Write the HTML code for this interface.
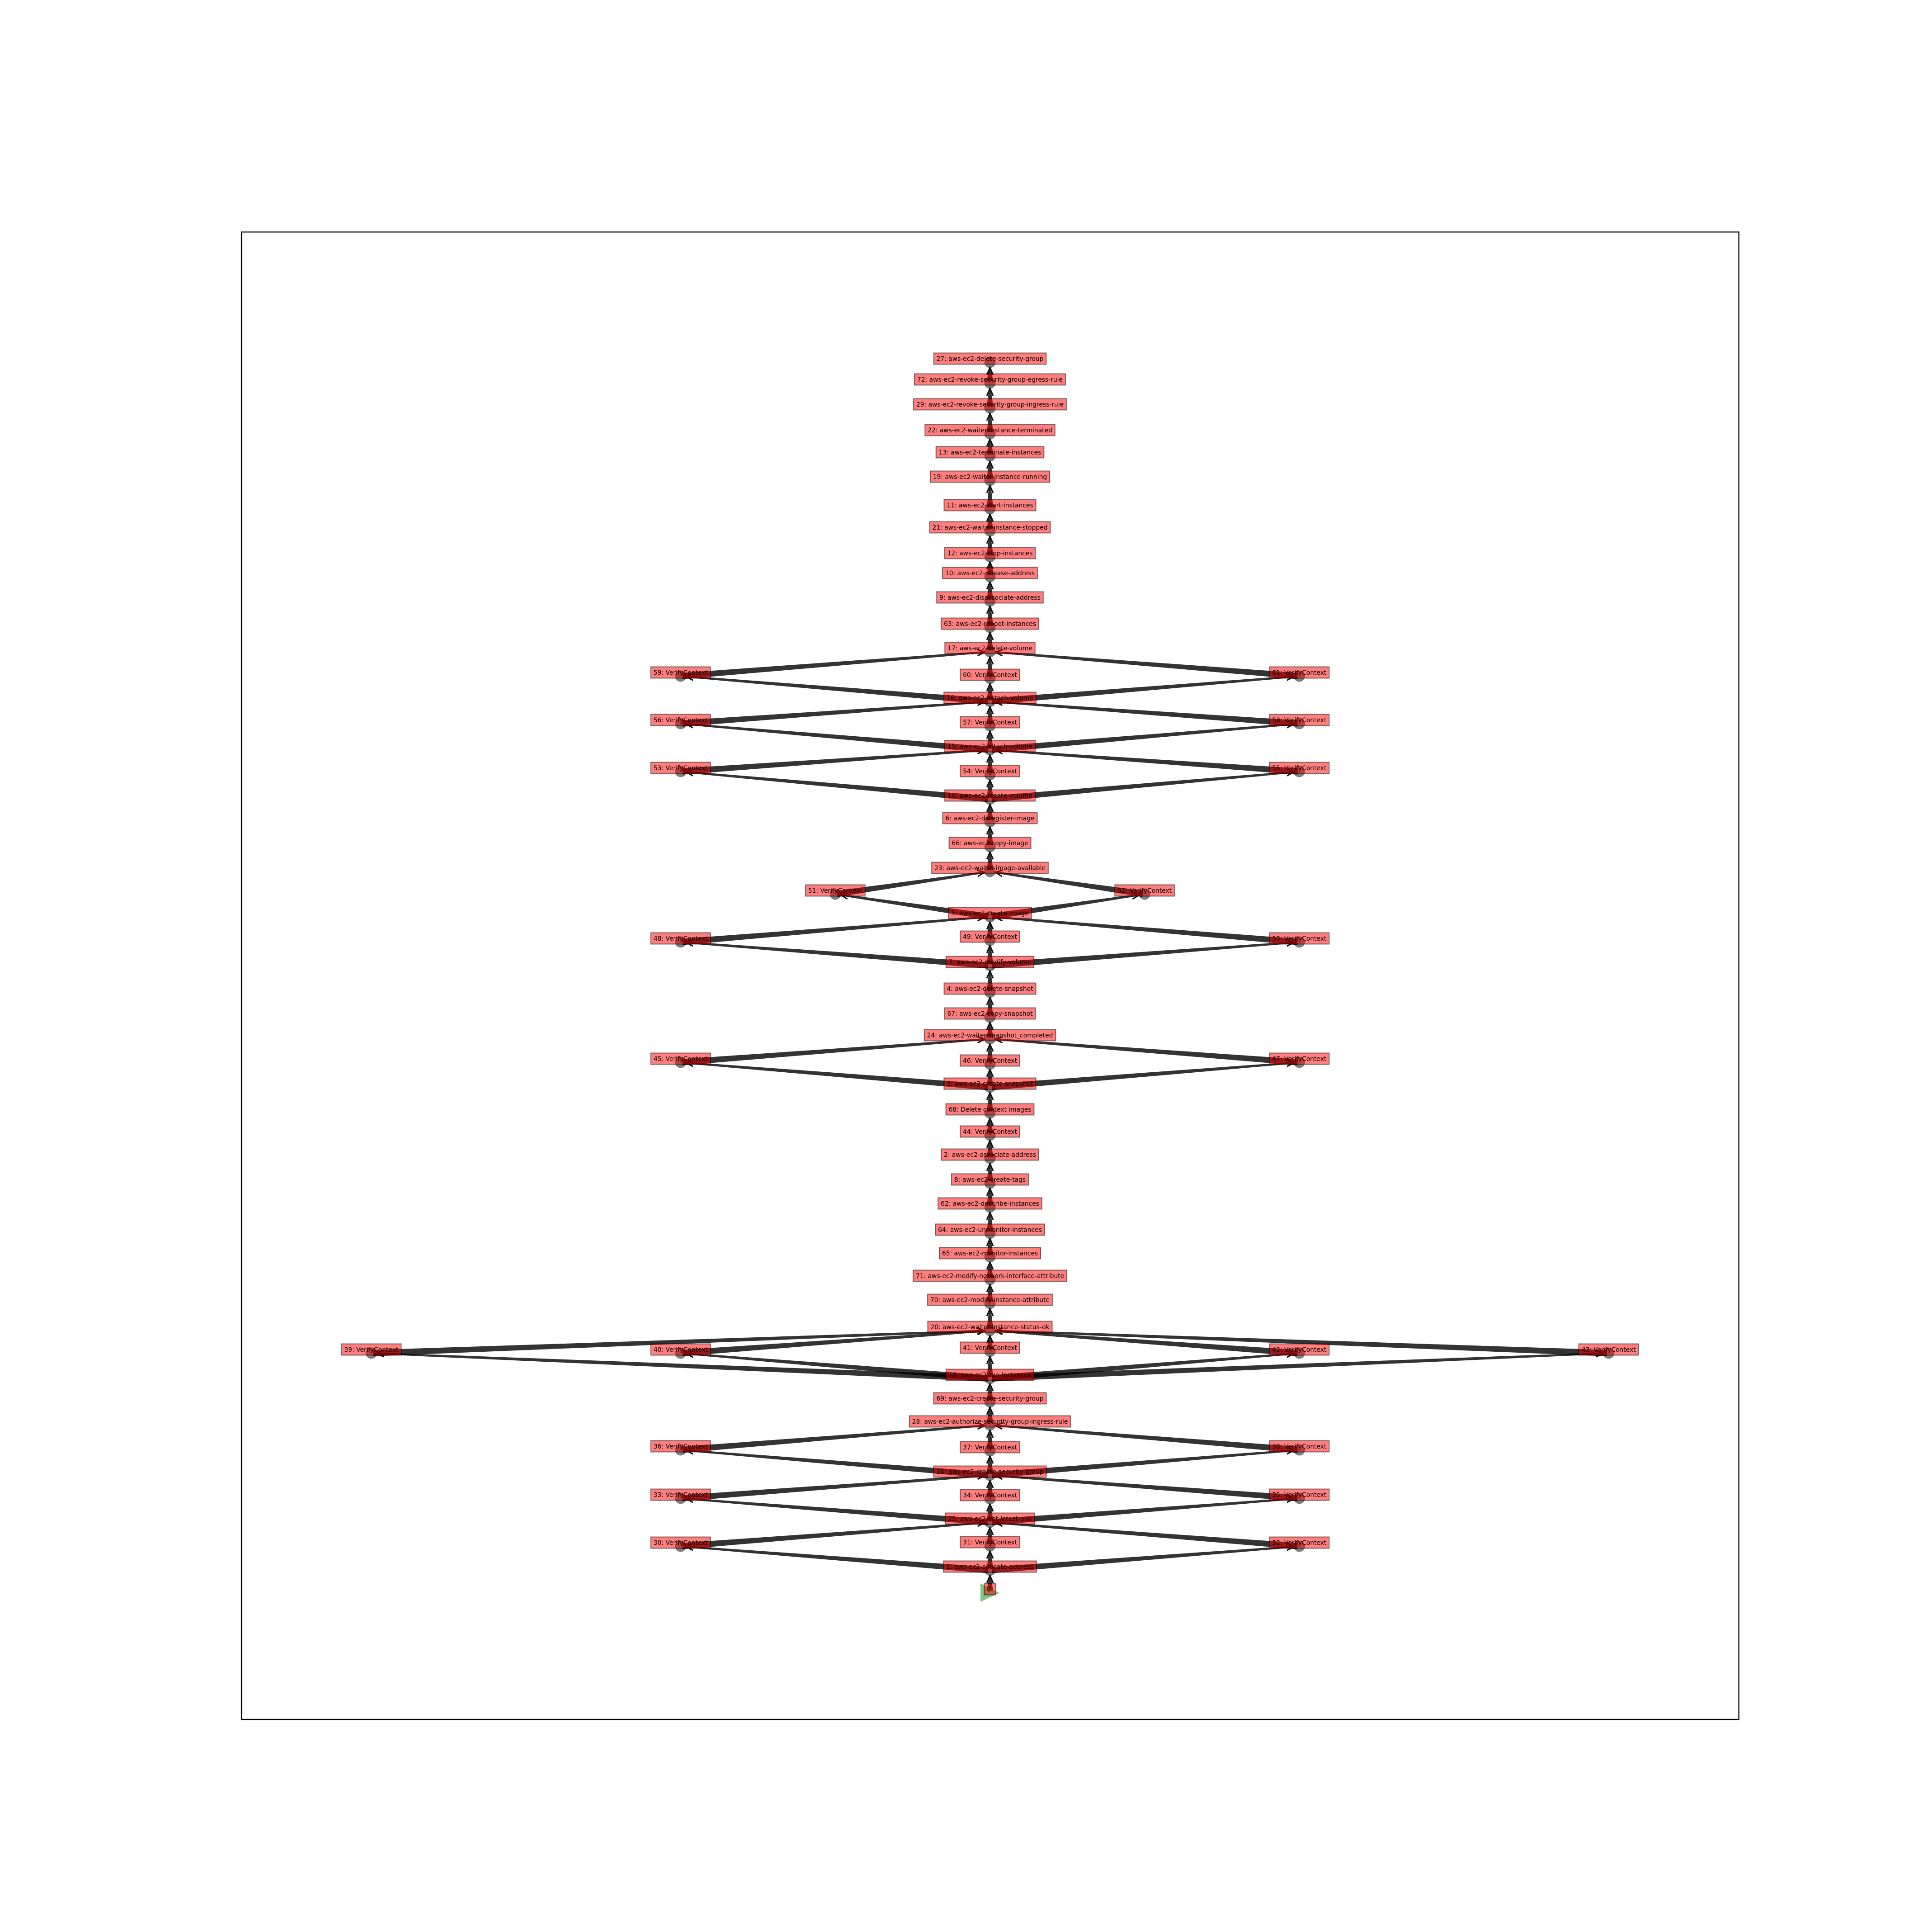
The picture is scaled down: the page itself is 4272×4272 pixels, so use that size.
<!DOCTYPE html>
<html><head><meta charset="utf-8">
<style>
html,body{margin:0;padding:0;background:#fff;}
svg{display:block;}
text{font-family:"DejaVu Sans","Liberation Sans",sans-serif;font-size:13.8px;}
</style></head>
<body>
<svg id="chart" width="4272" height="4272" viewBox="0 0 4272 4272" xmlns="http://www.w3.org/2000/svg">
<rect x="0" y="0" width="4272" height="4272" fill="#fff"/>
<rect x="534" y="513" width="3311" height="3289" fill="none" stroke="#000" stroke-width="2.4"/>
<g id="edges"></g>
<g id="nodes"></g>
<g id="labels"></g>
</svg>
<script>
// node ids, labels, lateral offset (columns), vertical position (px of node)
const nodeIds = [0,1,31,30,32,25,34,33,35,26,37,36,38,28,69,18,41,39,40,42,43,20,70,71,65,64,62,8,2,44,68,3,46,45,47,24,67,4,7,49,48,50,5,51,52,23,66,6,14,54,53,55,15,57,56,58,16,60,59,61,17,63,9,10,12,21,11,19,13,22,29,72,27];
const nodeNames = {
0:"",1:"aws-ec2-allocate-address",25:"aws-ec2-get-latest-ami",26:"aws-ec2-create-security-group",
28:"aws-ec2-authorize-security-group-ingress-rule",69:"aws-ec2-create-security-group",18:"aws-ec2-run-instances",
20:"aws-ec2-waiter-instance-status-ok",70:"aws-ec2-modify-instance-attribute",71:"aws-ec2-modify-network-interface-attribute",
65:"aws-ec2-monitor-instances",64:"aws-ec2-unmonitor-instances",62:"aws-ec2-describe-instances",8:"aws-ec2-create-tags",
2:"aws-ec2-associate-address",68:"Delete context images",3:"aws-ec2-create-snapshot",24:"aws-ec2-waiter-snapshot_completed",
67:"aws-ec2-copy-snapshot",4:"aws-ec2-delete-snapshot",7:"aws-ec2-modify-volume",5:"aws-ec2-create-image",
23:"aws-ec2-waiter-image-available",66:"aws-ec2-copy-image",6:"aws-ec2-deregister-image",14:"aws-ec2-create-volume",
15:"aws-ec2-attach-volume",16:"aws-ec2-detach-volume",17:"aws-ec2-delete-volume",63:"aws-ec2-reboot-instances",
9:"aws-ec2-disassociate-address",10:"aws-ec2-release-address",12:"aws-ec2-stop-instances",21:"aws-ec2-waiter-instance-stopped",
11:"aws-ec2-start-instances",19:"aws-ec2-waiter-instance-running",13:"aws-ec2-terminate-instances",
22:"aws-ec2-waiter-instance-terminated",29:"aws-ec2-revoke-security-group-ingress-rule",
72:"aws-ec2-revoke-security-group-egress-rule",27:"aws-ec2-delete-security-group"};
const nodeCol = [0,0,0,-2,2,0,0,-2,2,0,0,-2,2,0,0,0,0,-4,-2,2,4,0,0,0,0,0,0,0,0,0,0,0,0,-2,2,0,0,0,0,0,-2,2,0,-1,1,0,0,0,0,0,-2,2,0,0,-2,2,0,0,-2,2,0,0,0,0,0,0,0,0,0,0,0,0,0];
const nodeY = [3522,3472,3418,3419,3419,3366,3314,3313,3313,3262,3208,3206,3206,3151,3100,3048,2988,2992,2992,2992,2992,2942,2882,2829,2779,2727,2669,2616,2561,2510,2461,2404,2353,2349,2349,2297,2249,2194,2135,2079,2083,2083,2027,1977,1977,1927,1872,1817,1767,1713,1706,1706,1658,1605,1600,1600,1551,1500,1495,1495,1441,1387,1329,1275,1231,1174,1125,1062,1008,959,902,847,801];
// edges: [source, target]
const edgeSrc = [0,1,1,1,31,30,32,25,25,25,34,33,35,26,26,26,37,36,38,28,69,18,18,18,18,18,41,39,40,42,43,20,70,71,65,64,62,8,2,44,68,3,3,3,46,45,47,24,67,4,7,7,7,49,48,50,5,5,51,52,23,66,6,14,14,14,54,53,55,15,15,15,57,56,58,16,16,16,60,59,61,17,63,9,10,12,21,11,19,13,22,29,72];
const edgeDst = [1,31,30,32,25,25,25,34,33,35,26,26,26,37,36,38,28,28,28,69,18,41,39,40,42,43,20,20,20,20,20,70,71,65,64,62,8,2,44,68,3,46,45,47,24,24,24,67,4,7,49,48,50,5,5,5,51,52,23,23,66,6,14,54,53,55,15,15,15,57,56,58,16,16,16,60,59,61,17,17,17,63,9,10,12,21,11,19,13,22,29,72,27];

const CX = 2189, COLW = 342;
const NS = "http://www.w3.org/2000/svg";
function xOf(i){ return CX + nodeCol[i]*COLW; }
function yOf(i){ return nodeY[i]; }
const idx = {}; nodeIds.forEach((id,i)=>idx[id]=i);
const gE = document.getElementById('edges'), gN = document.getElementById('nodes'), gL = document.getElementById('labels');

for (let k=0;k<edgeSrc.length;k++){
  const a = idx[edgeSrc[k]], b = idx[edgeDst[k]];
  const x1=xOf(a), y1=yOf(a), x2=xOf(b), y2=yOf(b);
  const dx=x2-x1, dy=y2-y1, L=Math.hypot(dx,dy), ux=dx/L, uy=dy/L, nx=-uy, ny=ux;
  const sx=x1+ux*4, sy=y1+uy*4, tx=x2-ux*12, ty=y2-uy*12;
  const ws=7, wt=2;
  const p = document.createElementNS(NS,'polygon');
  p.setAttribute('points',[ [sx+nx*ws,sy+ny*ws],[tx+nx*wt,ty+ny*wt],[tx-nx*wt,ty-ny*wt],[sx-nx*ws,sy-ny*ws] ].map(q=>q.join(',')).join(' '));
  p.setAttribute('fill','rgba(0,0,0,0.8)');
  
  
  gE.appendChild(p);
  const hl=16, hw=7;
  const bx=tx-ux*hl, by=ty-uy*hl;
  const h = document.createElementNS(NS,'polyline');
  h.setAttribute('points',[[bx+nx*hw,by+ny*hw],[tx,ty],[bx-nx*hw,by-ny*hw]].map(q=>q.join(',')).join(' '));
  h.setAttribute('fill','none'); h.setAttribute('stroke','#111'); h.setAttribute('stroke-width','3');
  
  
  gE.appendChild(h);
}

nodeIds.forEach((id,i)=>{
  const x=xOf(i), y=yOf(i);
  if (id===0){
    const t=document.createElementNS(NS,'polygon');
    t.setAttribute('points',`${x-21},${y-21} ${x-21},${y+20} ${x+21},${y}`);
    t.setAttribute('fill','rgba(44,160,44,0.6)');
    
    
    gN.appendChild(t);
  } else {
    const c=document.createElementNS(NS,'circle');
    c.setAttribute('cx',x); c.setAttribute('cy',y); c.setAttribute('r',12.5);
    c.setAttribute('fill','rgba(0,0,0,0.5)');
    
    
    gN.appendChild(c);
  }
  const label = id + ": " + (nodeNames[id]!==undefined ? nodeNames[id] : "VerifyContext");
  const ly = y - 8;
  const g=document.createElementNS(NS,'g');
  
  
  const r=document.createElementNS(NS,'rect');
  const tx=document.createElementNS(NS,'text');
  tx.textContent = label;
  tx.setAttribute('x',x); tx.setAttribute('y',ly+5);
  tx.setAttribute('text-anchor','middle'); tx.setAttribute('fill','#000');
  g.appendChild(r); g.appendChild(tx); gL.appendChild(g);
  const w = tx.getComputedTextLength();
  r.setAttribute('x',x-w/2-6); r.setAttribute('y',ly-12.5);
  r.setAttribute('width',w+12); r.setAttribute('height',25);
  r.setAttribute('fill','rgba(255,0,0,0.5)'); r.setAttribute('stroke','rgba(0,0,0,0.5)'); r.setAttribute('stroke-width','2');
});
</script>
</body></html>
